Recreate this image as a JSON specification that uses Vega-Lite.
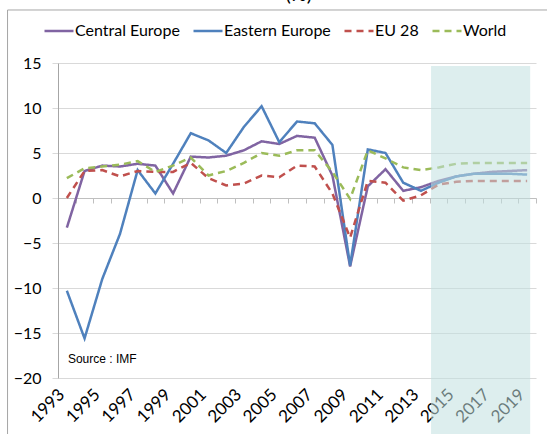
{
  "$schema": "https://vega.github.io/schema/vega-lite/v6.json",
  "width": 478,
  "height": 315,
  "autosize": "none",
  "padding": {"left": 58, "top": 63, "right": 11, "bottom": 56},
  "background": "white",
  "config": {
    "view": {"stroke": null},
    "font": "Lato"
  },
  "datasets": {
    "growth": [
      {"year": 1993, "Central Europe": -3.3, "Eastern Europe": -10.3, "EU 28": 0.0, "World": 2.2},
      {"year": 1994, "Central Europe": 3.0, "Eastern Europe": -15.6, "EU 28": 3.0, "World": 3.3},
      {"year": 1995, "Central Europe": 3.6, "Eastern Europe": -9.0, "EU 28": 3.1, "World": 3.5},
      {"year": 1996, "Central Europe": 3.5, "Eastern Europe": -4.0, "EU 28": 2.4, "World": 3.7},
      {"year": 1997, "Central Europe": 3.8, "Eastern Europe": 3.1, "EU 28": 3.0, "World": 4.1},
      {"year": 1998, "Central Europe": 3.6, "Eastern Europe": 0.5, "EU 28": 2.9, "World": 2.9},
      {"year": 1999, "Central Europe": 0.5, "Eastern Europe": 3.8, "EU 28": 2.9, "World": 3.6},
      {"year": 2000, "Central Europe": 4.6, "Eastern Europe": 7.2, "EU 28": 3.9, "World": 4.5},
      {"year": 2001, "Central Europe": 4.5, "Eastern Europe": 6.4, "EU 28": 2.2, "World": 2.5},
      {"year": 2002, "Central Europe": 4.7, "Eastern Europe": 5.0, "EU 28": 1.4, "World": 3.0},
      {"year": 2003, "Central Europe": 5.3, "Eastern Europe": 7.9, "EU 28": 1.6, "World": 3.9},
      {"year": 2004, "Central Europe": 6.3, "Eastern Europe": 10.2, "EU 28": 2.5, "World": 5.0},
      {"year": 2005, "Central Europe": 6.0, "Eastern Europe": 6.2, "EU 28": 2.3, "World": 4.7},
      {"year": 2006, "Central Europe": 6.9, "Eastern Europe": 8.5, "EU 28": 3.6, "World": 5.3},
      {"year": 2007, "Central Europe": 6.7, "Eastern Europe": 8.3, "EU 28": 3.5, "World": 5.3},
      {"year": 2008, "Central Europe": 2.5, "Eastern Europe": 5.9, "EU 28": 0.5, "World": 2.9},
      {"year": 2009, "Central Europe": -7.6, "Eastern Europe": -7.5, "EU 28": -4.4, "World": -0.1},
      {"year": 2010, "Central Europe": 1.3, "Eastern Europe": 5.4, "EU 28": 1.9, "World": 5.3},
      {"year": 2011, "Central Europe": 3.2, "Eastern Europe": 5.0, "EU 28": 1.7, "World": 4.4},
      {"year": 2012, "Central Europe": 0.8, "Eastern Europe": 1.7, "EU 28": -0.3, "World": 3.4},
      {"year": 2013, "Central Europe": 1.2, "Eastern Europe": 0.8, "EU 28": 0.3, "World": 3.1},
      {"year": 2014, "Central Europe": 1.9, "Eastern Europe": 1.7, "EU 28": 1.5, "World": 3.4},
      {"year": 2015, "Central Europe": 2.4, "Eastern Europe": 2.4, "EU 28": 1.8, "World": 3.8},
      {"year": 2016, "Central Europe": 2.7, "Eastern Europe": 2.7, "EU 28": 1.9, "World": 3.9},
      {"year": 2017, "Central Europe": 2.9, "Eastern Europe": 2.7, "EU 28": 1.9, "World": 3.9},
      {"year": 2018, "Central Europe": 3.0, "Eastern Europe": 2.7, "EU 28": 1.9, "World": 3.9},
      {"year": 2019, "Central Europe": 3.1, "Eastern Europe": 2.6, "EU 28": 1.9, "World": 3.9}
    ]
  },
  "layer": [
    {
      "data": {"values": [{}]},
      "mark": {"type": "rect", "fill": null, "fillOpacity": 0, "stroke": "#a6a6a6", "strokeWidth": 1},
      "encoding": {
        "x": {"datum": 1989.65, "type": "quantitative", "scale": {"domain": [1992.5, 2019.5], "nice": false, "zero": false}, "axis": null},
        "x2": {"datum": 2030},
        "y": {"datum": 20.89, "type": "quantitative", "scale": {"domain": [-20, 15], "nice": false, "zero": false},
          "axis": {
            "title": null, "values": [-20, -15, -10, -5, 0, 5, 10, 15],
            "grid": true, "gridColor": "#d9d9d9", "gridWidth": 1,
            "domain": true, "domainColor": "#a6a6a6", "domainWidth": 1,
            "ticks": true, "tickColor": "#d9d9d9", "tickSize": 6,
            "labelFont": "Lato", "labelFontSize": 16, "labelColor": "#000000", "labelPadding": 11
          }},
        "y2": {"datum": -40}
      }
    },
    {
      "data": {"name": "growth"},
      "transform": [
        {"fold": ["Central Europe", "Eastern Europe", "EU 28", "World"], "as": ["series", "value"]}
      ],
      "mark": {"type": "line", "strokeWidth": 2.5, "strokeJoin": "miter", "strokeCap": "butt"},
      "encoding": {
        "x": {
          "field": "year", "type": "quantitative",
          "scale": {"domain": [1992.5, 2019.5], "nice": false, "zero": false},
          "axis": {
            "orient": "bottom", "title": null, "domain": false, "ticks": false, "grid": false,
            "values": [1993, 1995, 1997, 1999, 2001, 2003, 2005, 2007, 2009, 2011, 2013, 2015, 2017, 2019],
            "format": "d", "labelAngle": -45, "labelFont": "Lato", "labelFontSize": 17,
            "labelColor": "#000000", "labelPadding": 8, "labelOffset": -11, "labelAlign": "right", "labelBaseline": "top",
            "labelOverlap": false, "labelFlush": false
          }
        },
        "y": {
          "field": "value", "type": "quantitative",
          "scale": {"domain": [-20, 15], "nice": false, "zero": false},
          "axis": {
            "title": null, "values": [-20, -15, -10, -5, 0, 5, 10, 15],
            "grid": true, "gridColor": "#d9d9d9", "gridWidth": 1,
            "domain": true, "domainColor": "#a6a6a6", "domainWidth": 1,
            "ticks": true, "tickColor": "#d9d9d9", "tickSize": 6,
            "labelFont": "Lato", "labelFontSize": 16, "labelColor": "#000000", "labelPadding": 11
          }
        },
        "color": {
          "field": "series", "type": "nominal", "sort": null,
          "scale": {"domain": ["Central Europe", "Eastern Europe", "EU 28", "World"], "range": ["#8064A2", "#4F81BD", "#C0504D", "#9BBB59"]},
          "legend": {
            "title": null, "orient": "none", "direction": "horizontal", "legendX": -15, "legendY": -48,
            "symbolType": "stroke", "symbolStrokeWidth": 2.5, "symbolSize": 841,
            "labelFont": "Lato", "labelFontSize": 16, "labelColor": "#000000", "labelOffset": 0,
            "columnPadding": 8
          }
        },
        "strokeDash": {
          "field": "series", "type": "nominal", "sort": null,
          "scale": {"domain": ["Central Europe", "Eastern Europe", "EU 28", "World"], "range": [[1, 0], [1, 0], [7, 5], [7, 5]]},
          "legend": {
            "title": null, "orient": "none", "direction": "horizontal", "legendX": -15, "legendY": -48,
            "symbolType": "stroke", "symbolStrokeWidth": 2.5, "symbolSize": 841,
            "labelFont": "Lato", "labelFontSize": 16, "labelColor": "#000000", "labelOffset": 0,
            "columnPadding": 8
          }
        }
      }
    },
    {
      "data": {"values": [{}]},
      "mark": {"type": "rect", "fill": "#C1E0E0", "opacity": 0.55},
      "encoding": {
        "x": {
          "datum": 2013.57, "type": "quantitative",
          "scale": {"domain": [1992.5, 2019.5], "nice": false, "zero": false},
          "axis": {
            "orient": "bottom", "offset": -180, "title": null, "labels": false, "grid": false,
            "domain": true, "domainColor": "#bfbfbf", "domainWidth": 1,
            "ticks": true, "tickColor": "#bfbfbf", "tickSize": 5, "tickWidth": 1,
            "values": [1992.5, 1993.5, 1994.5, 1995.5, 1996.5, 1997.5, 1998.5, 1999.5, 2000.5, 2001.5, 2002.5, 2003.5, 2004.5, 2005.5, 2006.5, 2007.5, 2008.5, 2009.5, 2010.5, 2011.5, 2012.5, 2013.5, 2014.5, 2015.5, 2016.5, 2017.5, 2018.5, 2019.5]
          }
        },
        "x2": {"datum": 2019.17},
        "y": {"datum": 14.67, "type": "quantitative", "scale": {"domain": [-20, 15], "nice": false, "zero": false},
          "axis": {
            "title": null, "values": [-20, -15, -10, -5, 0, 5, 10, 15],
            "grid": true, "gridColor": "#d9d9d9", "gridWidth": 1,
            "domain": true, "domainColor": "#a6a6a6", "domainWidth": 1,
            "ticks": true, "tickColor": "#d9d9d9", "tickSize": 6,
            "labelFont": "Lato", "labelFontSize": 16, "labelColor": "#000000", "labelPadding": 11
          }},
        "y2": {"datum": -26.5}
      }
    },
    {
      "data": {"values": [{}]},
      "mark": {"type": "text", "text": "Source : IMF", "font": "Liberation Sans", "fontSize": 12, "align": "left", "baseline": "middle", "color": "#000000"},
      "encoding": {
        "x": {"datum": 1993.06, "type": "quantitative", "scale": {"domain": [1992.5, 2019.5], "nice": false, "zero": false}, "axis": null},
        "y": {"datum": -17.9, "type": "quantitative", "scale": {"domain": [-20, 15], "nice": false, "zero": false},
          "axis": {
            "title": null, "values": [-20, -15, -10, -5, 0, 5, 10, 15],
            "grid": true, "gridColor": "#d9d9d9", "gridWidth": 1,
            "domain": true, "domainColor": "#a6a6a6", "domainWidth": 1,
            "ticks": true, "tickColor": "#d9d9d9", "tickSize": 6,
            "labelFont": "Lato", "labelFontSize": 16, "labelColor": "#000000", "labelPadding": 11
          }}
      }
    },
    {
      "data": {"values": [{}]},
      "mark": {"type": "text", "text": "(%)", "font": "Lato", "fontSize": 20, "align": "center", "baseline": "alphabetic", "color": "#000000"},
      "encoding": {
        "x": {"datum": 2006.1, "type": "quantitative", "scale": {"domain": [1992.5, 2019.5], "nice": false, "zero": false}, "axis": null},
        "y": {"datum": 21.9, "type": "quantitative", "scale": {"domain": [-20, 15], "nice": false, "zero": false},
          "axis": {
            "title": null, "values": [-20, -15, -10, -5, 0, 5, 10, 15],
            "grid": true, "gridColor": "#d9d9d9", "gridWidth": 1,
            "domain": true, "domainColor": "#a6a6a6", "domainWidth": 1,
            "ticks": true, "tickColor": "#d9d9d9", "tickSize": 6,
            "labelFont": "Lato", "labelFontSize": 16, "labelColor": "#000000", "labelPadding": 11
          }}
      }
    }
  ],
  "resolve": {"axis": {"x": "independent"}}
}
